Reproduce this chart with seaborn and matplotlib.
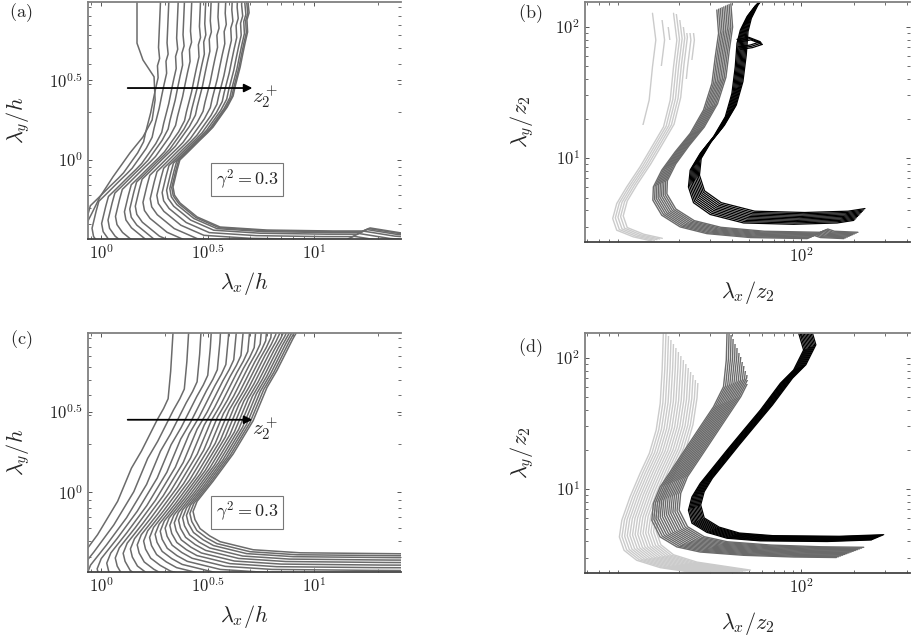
import numpy as np
import pandas as pd
import matplotlib
matplotlib.use("Agg")
import matplotlib.pyplot as plt
import seaborn as sns
from matplotlib.patches import Rectangle
from matplotlib.ticker import FixedLocator, FixedFormatter, LogLocator, NullFormatter

sns.set_theme(style="ticks")
plt.rcParams["mathtext.fontset"] = "cm"
plt.rcParams["font.family"] = ["DejaVu Serif"]

# ---- panel (a): measured contours, log10 of lambda/h (rightmost contour) ----
a_base_lx = [0.70, 0.69, 0.695, 0.685, 0.688, 0.676, 0.665, 0.653, 0.629, 0.62, 0.592, 0.526,
             0.50, 0.465, 0.404, 0.37, 0.357, 0.338, 0.345, 0.371, 0.451, 0.559, 0.779, 1.09,
             1.23, 1.263, 1.324, 1.408, 1.45]
a_base_ly = [1.30, 0.99, 0.92, 0.875, 0.80, 0.73, 0.66, 0.58, 0.456, 0.40, 0.33, 0.206,
             0.17, 0.125, 0.044, 0.0, -0.063, -0.169, -0.22, -0.269, -0.356, -0.419, -0.438,
             -0.444, -0.444, -0.425, -0.438, -0.456, -0.46]
a_shift_x = [-0.42, -0.38, -0.335, -0.305, -0.27, -0.228, -0.203, -0.177, -0.141, -0.107,
             -0.076, -0.051, -0.03, -0.015, -0.006, 0.0]
a_shift_y = [-0.286, -0.258, -0.228, -0.207, -0.184, -0.155, -0.138, -0.12, -0.096, -0.073,
             -0.052, -0.035, -0.02, -0.01, -0.004, 0.0]
a_odd_lx = [0.169, 0.169, 0.169, 0.197, 0.249, 0.254, 0.24, 0.197, 0.136, 0.056, -0.005, -0.042, -0.08]
a_odd_ly = [1.0, 0.92, 0.73, 0.625, 0.52, 0.375, 0.25, 0.144, 0.044, -0.106, -0.231, -0.331, -0.43]

# ---- panel (c): model contours, log10 of lambda/h (rightmost contour) ----
c_base_lx = [0.985, 0.974, 0.963, 0.951, 0.93, 0.90, 0.826, 0.779, 0.714, 0.62, 0.526,
             0.451, 0.432, 0.441, 0.465, 0.51, 0.559, 0.714, 0.934, 1.404, 1.6]
c_base_ly = [1.70, 1.49, 1.25, 1.08, 1.02, 0.95, 0.756, 0.65, 0.444, 0.2375, 0.069,
             -0.056, -0.119, -0.169, -0.225, -0.27, -0.306, -0.356, -0.375, -0.381, -0.382]
c_shift_x = [-0.636, -0.56, -0.50, -0.45, -0.405, -0.365, -0.328, -0.294, -0.262, -0.232,
             -0.204, -0.178, -0.154, -0.131, -0.109, -0.088, -0.068, -0.049, -0.031, -0.015, 0.0]
c_shift_y = [-0.50, -0.44, -0.395, -0.355, -0.32, -0.288, -0.259, -0.232, -0.207, -0.183,
             -0.161, -0.141, -0.122, -0.103, -0.086, -0.07, -0.054, -0.039, -0.024, -0.012, 0.0]

# ---- panel (b): measured, log10 of lambda/z2, three gamma^2 families ----
light_b_lx = [1.271, 1.29, 1.271, 1.252, 1.214, 1.147, 1.08, 1.004, 0.947, 0.924, 0.947, 1.042, 1.147]
light_b_ly = [2.104, 1.90, 1.696, 1.442, 1.238, 1.085, 0.933, 0.78, 0.653, 0.539, 0.45, 0.399, 0.368]
light_b_dx = [-0.12, -0.07, -0.04, 0.0, 0.015, 0.03, 0.045, 0.06, 0.08, 0.10]
light_b_dy = [0.0, 0.0, 0.0, 0.0, 0.005, 0.01, 0.015, 0.02, 0.0, 0.0]
light_b_lo = [1.25, 1.7, 1.9, 0.0, 0.0, 0.0, 0.0, 0.0, 1.6, 1.75]
light_b_hi = [2.15, 2.05, 2.0, 2.15, 2.1, 2.05, 2.0, 1.95, 1.95, 1.95]

grey_b_lx = [1.518, 1.528, 1.509, 1.49, 1.442, 1.366, 1.28, 1.204, 1.156, 1.153, 1.204,
             1.309, 1.461, 1.709, 2.033, 2.071, 2.109, 2.243]
grey_b_ly = [2.129, 1.951, 1.772, 1.569, 1.366, 1.188, 1.047, 0.908, 0.78, 0.679, 0.564,
             0.475, 0.424, 0.394, 0.386, 0.411, 0.394, 0.386]
grey_b_dx = [0.0, 0.01, 0.02, 0.03, 0.04, 0.05, 0.06, 0.07, 0.08]
grey_b_dy = [0.0, 0.006, 0.012, 0.018, 0.024, 0.03, 0.036, 0.042, 0.048]

black_b_lx = [1.737, 1.69, 1.652, 1.633, 1.623, 1.604, 1.566, 1.499, 1.423, 1.366, 1.356,
              1.385, 1.48, 1.671, 1.956, 2.204, 2.30]
black_b_ly = [2.16, 2.078, 1.976, 1.875, 1.696, 1.493, 1.314, 1.162, 1.035, 0.908, 0.78,
              0.66, 0.57, 0.505, 0.495, 0.505, 0.525]
black_b_dx = [0.0, 0.007, 0.014, 0.021, 0.028, 0.035, 0.042, 0.049, 0.056, 0.063]
black_b_dy = [0.0, 0.01, 0.02, 0.03, 0.04, 0.05, 0.06, 0.07, 0.08, 0.09]
hook_b_lx = [1.633, 1.70, 1.766, 1.709, 1.642]
hook_b_ly = [1.905, 1.921, 1.887, 1.862, 1.849]
hook_b_dx = [0.0, 0.006, 0.012]
hook_b_dy = [0.0, -0.01, -0.02]

# ---- panel (d): model, log10 of lambda/z2 ----
light_d_lx = [1.215, 1.213, 1.206, 1.195, 1.172, 1.133, 1.08, 1.023, 0.976, 0.962, 0.989,
              1.061, 1.195, 1.385, 1.5]
light_d_ly = [2.30, 2.188, 1.908, 1.653, 1.45, 1.272, 1.119, 0.94, 0.762, 0.635, 0.533,
              0.457, 0.401, 0.363, 0.34]
light_d_dx = [0.0, 0.015, 0.03, 0.045, 0.06, 0.075, 0.09, 0.105, 0.12, 0.135, 0.15, 0.165,
              0.18, 0.195, 0.21]
light_d_dy = [0.0, 0.003, 0.006, 0.009, 0.012, 0.015, 0.018, 0.021, 0.024, 0.027, 0.03,
              0.033, 0.036, 0.039, 0.042]
light_d_hi = [2.4, 2.4, 2.168, 2.138, 2.107, 2.077, 2.047, 2.017, 1.986, 1.956, 1.926,
              1.896, 1.866, 1.835, 1.805]

grey_d_lx = [1.578, 1.576, 1.572, 1.556, 1.499, 1.423, 1.347, 1.271, 1.195, 1.156, 1.147,
             1.195, 1.29, 1.423, 1.671, 1.956, 2.20]
grey_d_ly = [2.30, 2.188, 1.984, 1.78, 1.627, 1.475, 1.322, 1.169, 1.017, 0.89, 0.762,
             0.635, 0.559, 0.52, 0.495, 0.482, 0.478]
grey_d_dx = [0.0, 0.012, 0.024, 0.036, 0.048, 0.06, 0.072, 0.084, 0.096, 0.108, 0.12,
             0.132, 0.144, 0.156]
grey_d_dy = [0.0, 0.006, 0.012, 0.018, 0.024, 0.03, 0.036, 0.042, 0.048, 0.054, 0.06,
             0.066, 0.072, 0.078]
grey_d_hi = [2.4, 2.4, 2.176, 2.142, 2.108, 2.074, 2.04, 2.005, 1.971, 1.937, 1.903,
             1.869, 1.835, 1.80]

black_d_lx = [1.96, 1.985, 2.013, 1.956, 1.88, 1.766, 1.671, 1.576, 1.499, 1.423, 1.376,
              1.356, 1.376, 1.461, 1.576, 1.766, 2.147, 2.40]
black_d_ly = [2.25, 2.188, 2.06, 1.908, 1.806, 1.602, 1.45, 1.297, 1.169, 1.043, 0.94,
              0.839, 0.74, 0.67, 0.625, 0.605, 0.60, 0.612]
black_d_dx = [0.0, 0.007, 0.014, 0.021, 0.028, 0.035, 0.042, 0.049, 0.056, 0.063, 0.07]
black_d_dy = [0.0, 0.004, 0.008, 0.012, 0.016, 0.02, 0.024, 0.028, 0.032, 0.036, 0.04]

# axis limits (log10)
ac_xlim = (-0.061, 1.408)
ac_ylim = (-0.494, 0.9875)
bd_xlim = (0.766, 2.62)
bd_ylim = (0.36, 2.19)

LIGHT, GREY, BLACK = "#cbcbcb", "#6a6a6a", "#000000"
AC_COLOR = "#6b6b6b"


def family(lx, ly, dx, dy):
    parts = []
    for j, (sx, sy) in enumerate(zip(dx, dy)):
        parts.append(pd.DataFrame({"x": 10 ** (np.asarray(lx) + sx),
                                   "y": 10 ** (np.asarray(ly) + sy),
                                   "curve": j}))
    return pd.concat(parts, ignore_index=True)


def draw(ax, df, color, lw):
    n0 = len(ax.lines)
    sns.lineplot(data=df, x="x", y="y", units="curve", estimator=None, sort=False,
                 color=color, lw=lw, ax=ax, legend=False)
    return ax.lines[n0:]


def clip_lines(ax, lines, lo, hi, xlim, ylim):
    for ln, l, h in zip(lines, lo, hi):
        l = max(l, ylim[0])
        h = min(h, ylim[1])
        rect = Rectangle((10 ** xlim[0], 10 ** l), 10 ** xlim[1] - 10 ** xlim[0],
                         10 ** h - 10 ** l, transform=ax.transData)
        ln.set_clip_path(rect)


def style(ax, xlim, ylim, xt, xtl, yt, ytl):
    ax.set_xlim(10 ** xlim[0], 10 ** xlim[1])
    ax.set_ylim(10 ** ylim[0], 10 ** ylim[1])
    ax.xaxis.set_major_locator(FixedLocator(xt))
    ax.xaxis.set_major_formatter(FixedFormatter(xtl))
    ax.yaxis.set_major_locator(FixedLocator(yt))
    ax.yaxis.set_major_formatter(FixedFormatter(ytl))
    for axis in (ax.xaxis, ax.yaxis):
        axis.set_minor_locator(LogLocator(base=10, subs=np.arange(2, 10)))
        axis.set_minor_formatter(NullFormatter())
    ax.tick_params(which="both", direction="in", top=True, right=True,
                   color="#555555", labelsize=12, labelcolor="#222222")
    ax.tick_params(which="major", length=3, width=0.7)
    ax.tick_params(which="minor", length=2, width=0.6)
    for side in ("left", "top", "bottom"):
        ax.spines[side].set_color("#808080")
        ax.spines[side].set_linewidth(1.3)
    ax.spines["bottom"].set_color("#444444")
    ax.spines["right"].set_visible(False)


fig = plt.figure(figsize=(9.12, 6.39), dpi=100)
ax_a = fig.add_axes([88 / 912, 1 - 239 / 639, 313 / 912, 237 / 639])
ax_b = fig.add_axes([585 / 912, 1 - 242 / 639, 325 / 912, 240 / 639])
ax_c = fig.add_axes([88 / 912, 1 - 572 / 639, 313 / 912, 239 / 639])
ax_d = fig.add_axes([585 / 912, 1 - 573 / 639, 325 / 912, 240 / 639])
for ax in (ax_a, ax_b, ax_c, ax_d):
    ax.set_xscale("log")
    ax.set_yscale("log")

# (a)
draw(ax_a, family(a_base_lx, a_base_ly, a_shift_x, a_shift_y), AC_COLOR, 1.1)
draw(ax_a, family(a_odd_lx, a_odd_ly, [0.0], [0.0]), AC_COLOR, 1.1)
# (c)
draw(ax_c, family(c_base_lx, c_base_ly, c_shift_x, c_shift_y), AC_COLOR, 1.1)

# (b)
ln = draw(ax_b, family(light_b_lx, light_b_ly, light_b_dx, light_b_dy), LIGHT, 1.0)
clip_lines(ax_b, ln, light_b_lo, light_b_hi, bd_xlim, bd_ylim)
draw(ax_b, family(grey_b_lx, grey_b_ly, grey_b_dx, grey_b_dy), GREY, 1.0)
draw(ax_b, family(black_b_lx, black_b_ly, black_b_dx, black_b_dy), BLACK, 0.9)
draw(ax_b, family(hook_b_lx, hook_b_ly, hook_b_dx, hook_b_dy), BLACK, 0.9)

# (d)
ln = draw(ax_d, family(light_d_lx, light_d_ly, light_d_dx, light_d_dy), LIGHT, 1.0)
clip_lines(ax_d, ln, [0.0] * len(ln), light_d_hi, bd_xlim, bd_ylim)
ln = draw(ax_d, family(grey_d_lx, grey_d_ly, grey_d_dx, grey_d_dy), GREY, 1.0)
clip_lines(ax_d, ln, [0.0] * len(ln), grey_d_hi, bd_xlim, bd_ylim)
draw(ax_d, family(black_d_lx, black_d_ly, black_d_dx, black_d_dy), BLACK, 0.9)

ac_xt = [1.0, 10 ** 0.5, 10.0]
ac_xtl = [r"$10^{0}$", r"$10^{0.5}$", r"$10^{1}$"]
ac_yt = [1.0, 10 ** 0.5]
ac_ytl = [r"$10^{0}$", r"$10^{0.5}$"]
for ax in (ax_a, ax_c):
    style(ax, ac_xlim, ac_ylim, ac_xt, ac_xtl, ac_yt, ac_ytl)
    ax.set_xlabel(r"$\lambda_x/h$", fontsize=16)
    ax.set_ylabel(r"$\lambda_y/h$", fontsize=16)
    ax.xaxis.set_label_coords(0.5, -0.13)
    ax.yaxis.set_label_coords(-0.18, 0.5)
    ax.annotate("", xy=(0.534, 0.637), xytext=(0.118, 0.637), xycoords="axes fraction",
                arrowprops=dict(arrowstyle="-|>", color="black", lw=1.3, mutation_scale=12))
    ax.text(0.565, 0.60, r"$z_2^+$", transform=ax.transAxes, fontsize=15,
            ha="center", va="center")
    ax.text(0.508, 0.25, r"$\gamma^2 = 0.3$", transform=ax.transAxes, fontsize=13,
            ha="center", va="center",
            bbox=dict(boxstyle="square,pad=0.25", fc="white", ec="#777777", lw=0.8))

for ax in (ax_b, ax_d):
    style(ax, bd_xlim, bd_ylim, [100.0], [r"$10^{2}$"], [10.0, 100.0],
          [r"$10^{1}$", r"$10^{2}$"])
    ax.set_xlabel(r"$\lambda_x/z_2$", fontsize=16)
    ax.set_ylabel(r"$\lambda_y/z_2$", fontsize=16)
    ax.xaxis.set_label_coords(0.5, -0.155)
    ax.yaxis.set_label_coords(-0.15, 0.5)

for lab, x, y in [("(a)", 21, 13), ("(b)", 530, 14), ("(c)", 21, 340), ("(d)", 530, 348)]:
    fig.text(x / 912, 1 - y / 639, r"$\mathrm{" + lab + "}$", fontsize=13,
             ha="center", va="center")

fig.savefig("out.png", dpi=100, facecolor="white")
